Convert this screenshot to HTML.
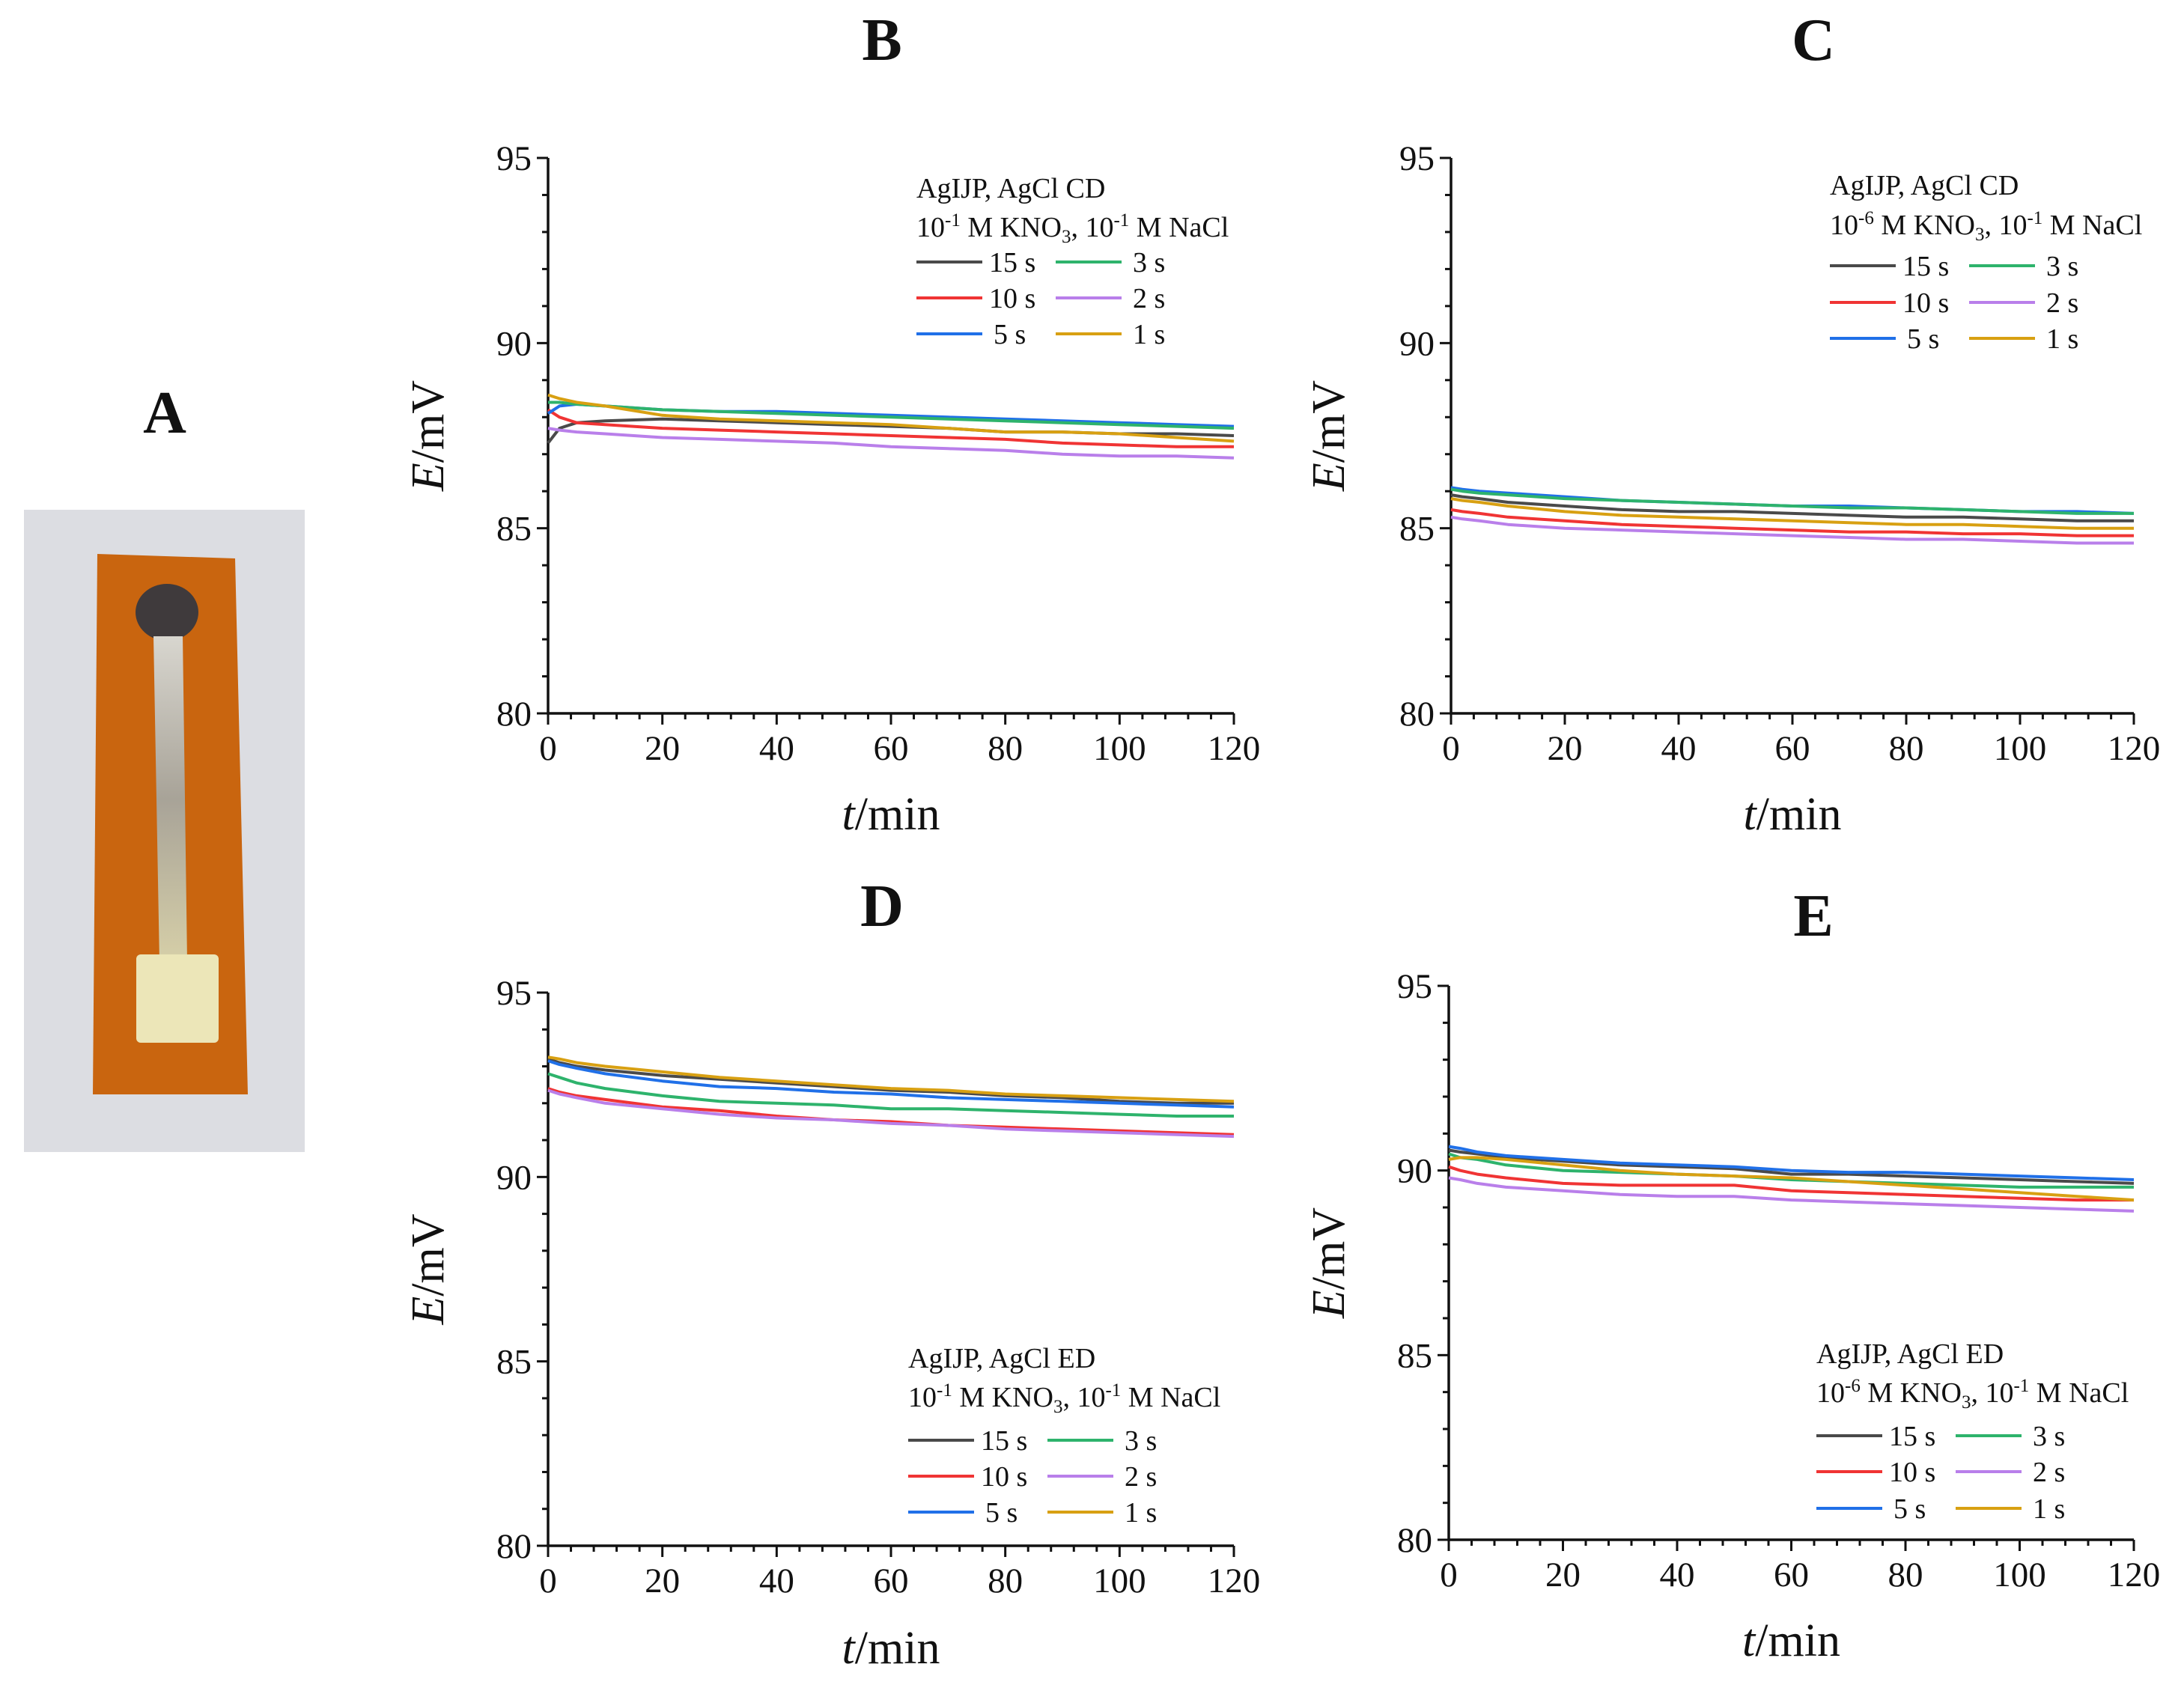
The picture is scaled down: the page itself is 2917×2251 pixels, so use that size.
<!DOCTYPE html>
<html><head><meta charset="utf-8">
<style>
html,body{margin:0;padding:0;background:#fff;}
svg{display:block;}
text{font-family:"Liberation Serif",serif;fill:#111;}
</style></head>
<body>
<svg id="fig" width="2917" height="2251" viewBox="0 0 2917 2251" xmlns="http://www.w3.org/2000/svg">
  <defs>
    <linearGradient id="stemGrad" x1="0" y1="0" x2="0" y2="1">
      <stop offset="0" stop-color="#d8d6cf"/>
      <stop offset="0.5" stop-color="#a8a398"/>
      <stop offset="1" stop-color="#d6cfa8"/>
    </linearGradient>
  </defs>
  <g>
    <text x="220" y="578" font-size="80" font-weight="bold" text-anchor="middle">A</text>
    <rect x="32" y="681" width="375" height="858" fill="#dcdde2"/>
    <polygon points="130,740 314,746 331,1462 124,1462" fill="#c9650f"/>
    <ellipse cx="223" cy="818" rx="42" ry="38" fill="#3f3a3c"/>
    <polygon points="205,850 244,850 250,1285 213,1285" fill="url(#stemGrad)"/>
    <rect x="182" y="1275" width="110" height="118" rx="6" fill="#ece6b8"/>
  </g>
</svg>
<script>
const times = [0,2,5,10,20,30,40,50,60,70,80,90,100,110,120];
const seriesNames = ["15 s","10 s","5 s","3 s","2 s","1 s"];
const B_15 = [87.3,87.7,87.85,87.9,87.95,87.9,87.85,87.8,87.75,87.7,87.6,87.6,87.55,87.55,87.5];
const B_10 = [88.2,88.0,87.85,87.8,87.7,87.65,87.6,87.55,87.5,87.45,87.4,87.3,87.25,87.2,87.2];
const B_5  = [88.1,88.3,88.35,88.3,88.2,88.15,88.15,88.1,88.05,88.0,87.95,87.9,87.85,87.8,87.75];
const B_3  = [88.4,88.4,88.35,88.3,88.2,88.15,88.1,88.05,88.0,87.95,87.9,87.85,87.8,87.75,87.7];
const B_2  = [87.7,87.65,87.6,87.55,87.45,87.4,87.35,87.3,87.2,87.15,87.1,87.0,86.95,86.95,86.9];
const B_1  = [88.6,88.5,88.4,88.3,88.05,87.95,87.9,87.85,87.8,87.7,87.6,87.6,87.55,87.45,87.35];
const C_15 = [85.9,85.85,85.8,85.7,85.6,85.5,85.45,85.45,85.4,85.35,85.3,85.3,85.25,85.2,85.2];
const C_10 = [85.5,85.45,85.4,85.3,85.2,85.1,85.05,85.0,84.95,84.9,84.9,84.85,84.85,84.8,84.8];
const C_5  = [86.1,86.05,86.0,85.95,85.85,85.75,85.7,85.65,85.6,85.6,85.55,85.5,85.45,85.45,85.4];
const C_3  = [86.05,86.0,85.95,85.9,85.8,85.75,85.7,85.65,85.6,85.55,85.55,85.5,85.45,85.4,85.4];
const C_2  = [85.3,85.25,85.2,85.1,85.0,84.95,84.9,84.85,84.8,84.75,84.7,84.7,84.65,84.6,84.6];
const C_1  = [85.8,85.75,85.7,85.6,85.45,85.35,85.3,85.25,85.2,85.15,85.1,85.1,85.05,85.0,85.0];
const D_15 = [93.2,93.1,93.0,92.9,92.75,92.65,92.55,92.45,92.35,92.3,92.2,92.15,92.05,92.0,92.0];
const D_10 = [92.4,92.3,92.2,92.1,91.9,91.8,91.65,91.55,91.5,91.4,91.35,91.3,91.25,91.2,91.15];
const D_5  = [93.15,93.05,92.95,92.8,92.6,92.45,92.4,92.3,92.25,92.15,92.1,92.05,92.0,91.95,91.9];
const D_3  = [92.8,92.7,92.55,92.4,92.2,92.05,92.0,91.95,91.85,91.85,91.8,91.75,91.7,91.65,91.65];
const D_2  = [92.35,92.25,92.15,92.0,91.85,91.7,91.6,91.55,91.45,91.4,91.3,91.25,91.2,91.15,91.1];
const D_1  = [93.25,93.2,93.1,93.0,92.85,92.7,92.6,92.5,92.4,92.35,92.25,92.2,92.15,92.1,92.05];
const E_15 = [90.55,90.5,90.45,90.35,90.25,90.15,90.1,90.05,89.9,89.9,89.85,89.8,89.75,89.7,89.65];
const E_10 = [90.1,90.0,89.9,89.8,89.65,89.6,89.6,89.6,89.45,89.4,89.35,89.3,89.25,89.2,89.2];
const E_5  = [90.65,90.6,90.5,90.4,90.3,90.2,90.15,90.1,90.0,89.95,89.95,89.9,89.85,89.8,89.75];
const E_3  = [90.45,90.35,90.3,90.15,90.0,89.95,89.9,89.85,89.75,89.7,89.65,89.6,89.55,89.55,89.55];
const E_2  = [89.8,89.75,89.65,89.55,89.45,89.35,89.3,89.3,89.2,89.15,89.1,89.05,89.0,88.95,88.9];
const E_1  = [90.3,90.35,90.35,90.3,90.15,90.0,89.9,89.85,89.8,89.7,89.6,89.5,89.4,89.3,89.2];
const xTicks = [0,20,40,60,80,100,120];
const yTicks = [80,85,90,95];

const colors = {"15 s":"#4a4a4a","10 s":"#f03434","5 s":"#2070e8","3 s":"#2eb36c","2 s":"#b97fea","1 s":"#d8a012"};
const NS = "http://www.w3.org/2000/svg";
const svg = document.getElementById("fig");
function mk(tag, attrs, parent){
  const e = document.createElementNS(NS, tag);
  for (const k in attrs) e.setAttribute(k, attrs[k]);
  (parent||svg).appendChild(e);
  return e;
}
const panels = [
  {id:"b", letter:"B", lx:1178, ly:80, x0:732, x1:1648, yTop:211, yBot:953, ytx:592, xty:1108,
   data:[B_15,B_10,B_5,B_3,B_2,B_1], leg:{x:1224, ys:[251,303,350,398,446]}, desc:"CD", c1:"-1"},
  {id:"c", letter:"C", lx:2422, ly:80, x0:1938, x1:2850, yTop:211, yBot:953, ytx:1795, xty:1108,
   data:[C_15,C_10,C_5,C_3,C_2,C_1], leg:{x:2444, ys:[247,300,355,404,452]}, desc:"CD", c1:"-6"},
  {id:"d", letter:"D", lx:1178, ly:1237, x0:732, x1:1648, yTop:1326, yBot:2065, ytx:592, xty:2222,
   data:[D_15,D_10,D_5,D_3,D_2,D_1], leg:{x:1213, ys:[1814,1866,1924,1972,2020]}, desc:"ED", c1:"-1"},
  {id:"e", letter:"E", lx:2422, ly:1250, x0:1935, x1:2850, yTop:1317, yBot:2057, ytx:1795, xty:2212,
   data:[E_15,E_10,E_5,E_3,E_2,E_1], leg:{x:2426, ys:[1808,1860,1918,1966,2015]}, desc:"ED", c1:"-6"}
];
panels.forEach(p => {
  const g = mk("g", {});
  
  
  const sx = t => p.x0 + (t/120)*(p.x1-p.x0);
  const sy = v => p.yBot - ((v-80)/15)*(p.yBot-p.yTop);
  const lbl = mk("text", {x:p.lx, y:p.ly, "font-size":80, "font-weight":"bold", "text-anchor":"middle"}, g);
  lbl.textContent = p.letter;
  
  
  const ax = mk("path", {d:`M${p.x0},${p.yTop}V${p.yBot}H${p.x1}`, stroke:"#111", "stroke-width":3.5, fill:"none"}, g);
  
  
  for (let v=80; v<=95; v++){
    const major = v%5===0;
    const tk = mk("line", {x1:p.x0, x2:p.x0-(major?15:8), y1:sy(v), y2:sy(v), stroke:"#111", "stroke-width":3}, g);
    
    
  }
  for (let t=0; t<=120; t+=4){
    const major = t%20===0;
    const tk = mk("line", {x1:sx(t), x2:sx(t), y1:p.yBot, y2:p.yBot+(major?15:8), stroke:"#111", "stroke-width":3}, g);
    
    
  }
  yTicks.forEach(v => {
    const t = mk("text", {x:p.x0-22, y:sy(v)+16, "font-size":47, "text-anchor":"end"}, g);
    t.textContent = v;
    
    
  });
  xTicks.forEach(v => {
    const t = mk("text", {x:sx(v), y:p.yBot+62, "font-size":47, "text-anchor":"middle"}, g);
    t.textContent = v;
    
    
  });
  const yc = (p.yTop+p.yBot)/2;
  const yt = mk("text", {x:p.ytx, y:yc, "font-size":62, "text-anchor":"middle", transform:`rotate(-90 ${p.ytx} ${yc})`}, g);
  yt.innerHTML = '<tspan font-style="italic">E</tspan>/mV';
  
  
  const xt = mk("text", {x:(p.x0+p.x1)/2, y:p.xty, "font-size":62, "text-anchor":"middle"}, g);
  xt.innerHTML = '<tspan font-style="italic">t</tspan>/min';
  
  
  p.data.forEach((vals, i) => {
    const name = seriesNames[i];
    const d = vals.map((v,k) => (k?"L":"M") + sx(times[k]).toFixed(1) + "," + sy(v).toFixed(1)).join("");
    const ln = mk("path", {d:d, stroke:colors[name], "stroke-width":4, fill:"none", "stroke-linejoin":"round"}, g);
    
    
  });
  const lg = mk("g", {}, g);
  
  
  const t1 = mk("text", {x:p.leg.x, y:p.leg.ys[0]+13, "font-size":38}, lg);
  t1.textContent = "AgIJP, AgCl " + p.desc;
  
  
  const t2 = mk("text", {x:p.leg.x, y:p.leg.ys[1]+13, "font-size":38}, lg);
  t2.innerHTML = `10<tspan font-size="25" dy="-14">${p.c1}</tspan><tspan dy="14"> M KNO</tspan><tspan font-size="25" dy="8">3</tspan><tspan dy="-8">, 10</tspan><tspan font-size="25" dy="-14">-1</tspan><tspan dy="14"> M NaCl</tspan>`;
  
  
  const order = [["15 s","3 s"],["10 s","2 s"],["5 s","1 s"]];
  order.forEach((row, r) => {
    row.forEach((name, c) => {
      const lx = p.leg.x + c*186;
      const y = p.leg.ys[2+r];
      const e = mk("g", {}, lg);
      
      
      mk("line", {x1:lx, x2:lx+88, y1:y, y2:y, stroke:colors[name], "stroke-width":4}, e);
      const tt = mk("text", {x:lx+(name.length>3?97:103), y:y+13, "font-size":38}, e);
      tt.textContent = name;
    });
  });
});
</script>
</body></html>
